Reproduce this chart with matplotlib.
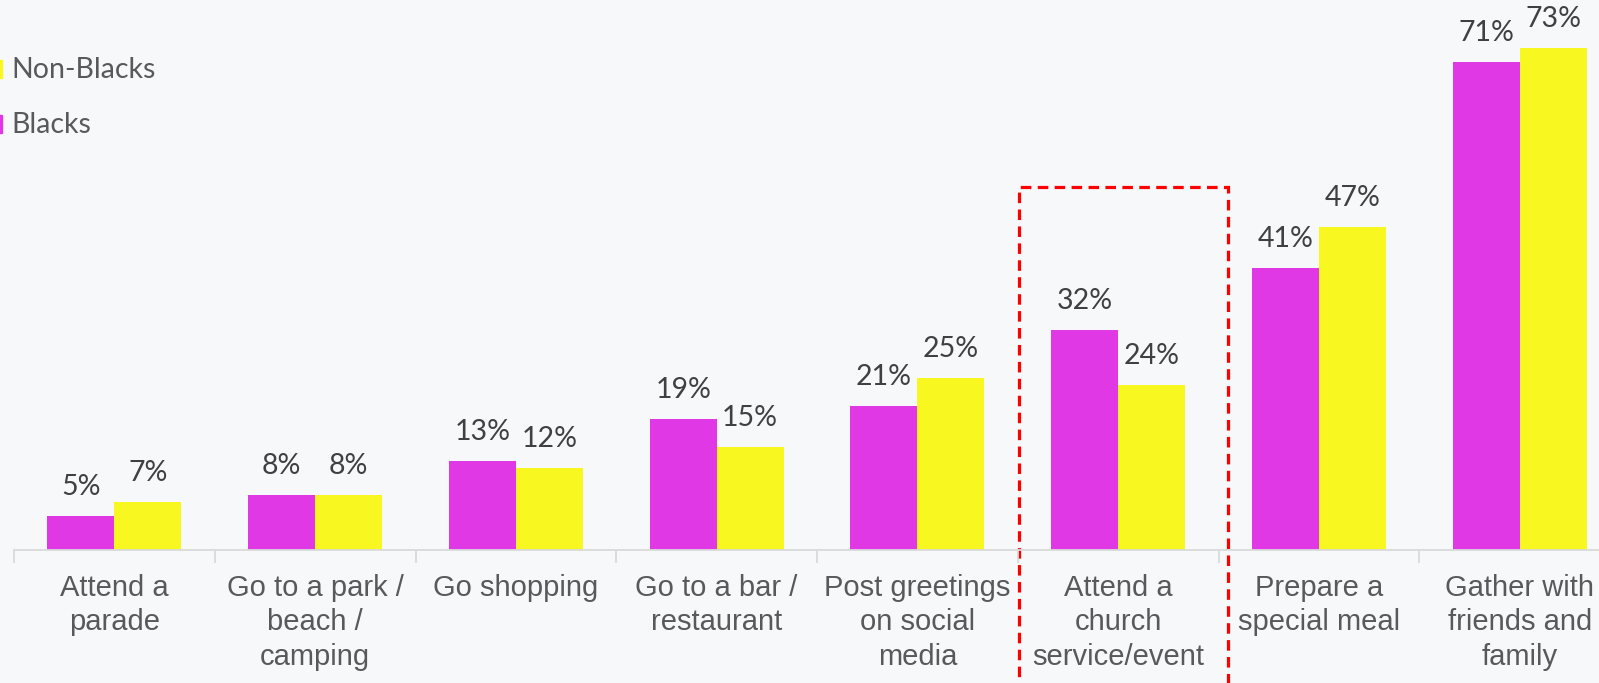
import matplotlib
matplotlib.use("Agg")
import matplotlib.pyplot as plt
from matplotlib.patches import Rectangle
import numpy as np

categories = ["Attend a\nparade", "Go to a park /\nbeach /\ncamping", "Go shopping",
              "Go to a bar /\nrestaurant", "Post greetings\non social\nmedia",
              "Attend a\nchurch\nservice/event", "Prepare a\nspecial meal",
              "Gather with\nfriends and\nfamily"]
blacks = [5, 8, 13, 19, 21, 32, 41, 71]
non_blacks = [7, 8, 12, 15, 25, 24, 47, 73]
series_names = ["Blacks", "Non-Blacks"]
highlight = 5

BG = "#F7F8FA"
MAG = "#E138E6"
YEL = "#F8F820"
TXT = "#595959"
VAL = "#404040"

W, H = 1599, 683
fig = plt.figure(figsize=(W / 100, H / 100), dpi=100, facecolor=BG)
ax = fig.add_axes([14 / W, 133 / H, 1606 / W, 549.6 / H])
ax.set_facecolor(BG)

x = np.arange(len(categories))
bw = 1 / 3
b1 = ax.bar(x - bw / 2, blacks, bw, color=MAG, label=series_names[0])
b2 = ax.bar(x + bw / 2, non_blacks, bw, color=YEL, label=series_names[1])

ax.set_xlim(-0.5, len(categories) - 0.5)
ax.set_ylim(0, 80)

for bars, vals in ((b1, blacks), (b2, non_blacks)):
    for r, v in zip(bars, vals):
        ax.annotate(f"{v}%", (r.get_x() + r.get_width() / 2, r.get_height()),
                    xytext=(0, 21), textcoords="offset pixels", ha="center",
                    va="baseline", fontsize=20.5, color=VAL, family="Lato",
                    annotation_clip=False)

for s in ["top", "right", "left"]:
    ax.spines[s].set_visible(False)
ax.spines["bottom"].set_color("#D9D9D9")
ax.spines["bottom"].set_linewidth(1.3)
ax.set_yticks([])
ax.set_xticks(x)
ax.set_xticklabels(categories, fontsize=21, color=TXT, family="Liberation Sans",
                   linespacing=1.31)
ax.tick_params(axis="x", which="major", length=0, pad=17)
ax.set_xticks(np.arange(-0.5, len(categories)), minor=True)
ax.tick_params(axis="x", which="minor", length=9, color="#D9D9D9", width=1.3)

# highlight box
rect = Rectangle((highlight - 0.495, -30), 1.04, 52.8 + 30, fill=False,
                 edgecolor="#FF0000", linewidth=2.3, linestyle=(0, (3.3, 2.0)),
                 clip_on=False)
ax.add_patch(rect)

# legend (manual)
for name, col, ybase in ((series_names[1], YEL, 78), (series_names[0], MAG, 133)):
    fig.patches.append(Rectangle((-16 / W, 1 - ybase / H), 18 / W, 18 / H,
                                 transform=fig.transFigure, color=col))
    fig.text(11 / W, 1 - ybase / H, name, fontsize=20.5, color=TXT, family="Lato",
             va="baseline", ha="left")

fig.savefig("out.png", dpi=100, facecolor=BG)
